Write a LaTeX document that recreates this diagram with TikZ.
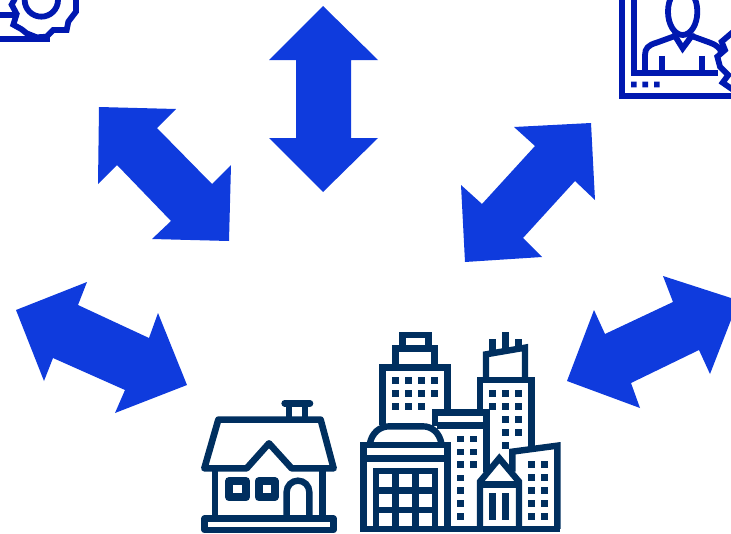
\documentclass[tikz,border=0pt]{standalone}
\definecolor{arrowblue}{HTML}{0F3BDD}
\definecolor{navy}{HTML}{002F5F}
\definecolor{royal}{HTML}{0018B0}
\tikzset{
  bigarrow/.style={fill=arrowblue,draw=none},
  zoomed/.style={x=0.3333pt,y=-0.3333pt,line join=miter},
  navyline/.style={draw=navy,line width=6.4pt},
  navyround/.style={draw=navy,line width=6.6pt,line join=round,line cap=round},
  navywin/.style={fill=navy,draw=none},
  royalline/.style={draw=royal,line width=6pt},
  royalthin/.style={draw=royal,line width=5.8pt},
}
\newcommand{\sq}[2]{\fill[navywin] (#1-1,#2-1) rectangle ++(20,20);}
\begin{document}
\begin{tikzpicture}[x=1pt,y=-1pt]
\useasboundingbox (0,0) rectangle (731,533);
\clip (0,0) rectangle (731,533);
% Arrows
\fill[bigarrow] (323,6)--(378,60)--(351,60)--(351,138)--(378,138)--(323,192)--(269,138)--(296,138)--(296,60)--(269,60)--cycle;
\fill[bigarrow] (99,107)--(176,109)--(157,128)--(212,184)--(231,165)--(229,241)--(152,239)--(171,221)--(117,165)--(98,184)--cycle;
\fill[bigarrow] (591,123)--(595,200)--(575,181)--(523,238)--(542,257)--(465,262)--(461,185)--(482,204)--(535,146)--(514,127)--cycle;
\fill[bigarrow] (16,310)--(87,282)--(78,305)--(149,338)--(158,313)--(187,385)--(115,413)--(125,390)--(53,358)--(44,381)--cycle;
\fill[bigarrow] (567,381)--(594,310)--(605,334)--(673,302)--(663,276)--(731,298)--(731,320)--(710,374)--(699,350)--(631,383)--(640,408)--cycle;
% House
\begin{scope}[shift={(190,390)},zoomed]
\draw[navyround] (43,235)--(85,89)--(392,89)--(431,235)--(305,235)--(237,160)--(170,235)--cycle;
\draw[navyround] (284,40)--(360,40);
\draw[navyline] (297,40)--(297,89) (345,40)--(345,89);
\draw[navyline] (75,235)--(75,385) (398,235)--(398,385);
\draw[navyround] (44,386) rectangle (430,420);
\draw[navyround,line width=7.7pt] (117,273) rectangle (168,322);
\draw[navyround,line width=7.7pt] (206,273) rectangle (254,322);
\draw[navyline] (290,385)--(290,306) arc[start angle=180,end angle=360,radius=34]--(358,385);
\end{scope}
% City
\begin{scope}[shift={(350,325)},zoomed]
\draw[navyline] (98,300)--(98,127)--(292,127)--(292,262);
\draw[navyline] (137,127)--(137,70)--(253,70)--(253,127);
\draw[navyline] (157,30) rectangle (236,70);
\foreach \y in {157,196}{\foreach \x in {128,166,206,245}{\sq{\x}{\y}}}
\foreach \x in {128,166,206}{\sq{\x}{235}}
\draw[navyline] (60,354) .. controls (66,325) and (88,304) .. (118,304)--(218,304) .. controls (248,304) and (268,325) .. (274,354);
\draw[navyline] (40,612)--(40,360)--(292,360)--(292,612);
\draw[navyline] (40,400)--(292,400);
\draw[navyline] (78,612)--(78,438)--(255,438)--(255,612);
\draw[navyline] (137,438)--(137,612) (196,438)--(196,612) (78,497)--(255,497) (78,555)--(255,555);
\draw[navyline] (255,302)--(255,262)--(410,262)--(410,440);
\draw[navyline] (262,302)--(410,302);
\foreach \y in {333,372,410}{\foreach \x in {322,362}{\sq{\x}{\y}}}
\foreach \y in {450,488,527,565}{\sq{322}{\y}}
\draw[navyline] (390,262)--(390,165)--(545,165)--(545,365);
\draw[navyline] (408,165)--(408,88)--(525,68)--(525,165);
\draw[navyline] (428,85)--(428,42) (466,75)--(466,22) (506,70)--(506,42);
\foreach \y in {196,235}{\foreach \x in {418,457,497}{\sq{\x}{\y}}}
\foreach \y in {274,313}{\foreach \x in {457,497}{\sq{\x}{\y}}}
\sq{457}{352}
\draw[navyline] (390,612)--(390,470)--(448,400)--(507,470)--(507,612);
\draw[navyline] (395,478)--(502,478);
\draw[navyline] (428,505)--(428,585) (466,505)--(466,585);
\draw[navyline] (487,440)--(487,380)--(622,362)--(622,612);
\foreach \y in {410,448,487,527,565}{\foreach \x in {535,575}{\sq{\x}{\y}}}
\draw[navyline] (30,612)--(631,612);
\end{scope}
% Person icon
\begin{scope}[shift={(610,0)},zoomed]
\draw[royalline] (37,-10)--(37,287)--(370,287);
\draw[royalthin] (72,-10)--(72,218)--(325,218);
\draw[royalthin] (218,35) ellipse[x radius=44,y radius=70];
\draw[royalthin] (195,100)--(195,108)--(218,145)--(245,108)--(245,100);
\draw[royalthin] (105,218)--(105,165) .. controls (105,145) and (115,135) .. (140,128)--(195,108);
\draw[royalthin] (245,108)--(300,128) .. controls (320,135) and (330,145) .. (333,155);
\draw[royalthin] (157,168)--(157,218) (277,168)--(277,218);
\fill[royal] (63,245) rectangle ++(17,17) (97,245) rectangle ++(17,17) (132,245) rectangle ++(17,17);
\draw[royalthin] (370,95)--(335,125)--(345,150)--(322,170)--(330,200)--(355,225)--(338,248)--(370,270);
\end{scope}
% Gear icon
\begin{scope}[zoomed]
\draw[royalline] (-10,45)--(48,45);
\draw[royalline] (-10,117)--(150,117);
\draw[royalthin] (124,0) circle[radius=50];
\draw[royalthin] (48,-10)--(35,14)--(50,42)--(40,74)--(65,88)--(80,100)--(110,112)--(140,110)--(160,90)--(200,90)--(205,65)--(228,35)--(228,-10);
\end{scope}
\end{tikzpicture}
\end{document}
